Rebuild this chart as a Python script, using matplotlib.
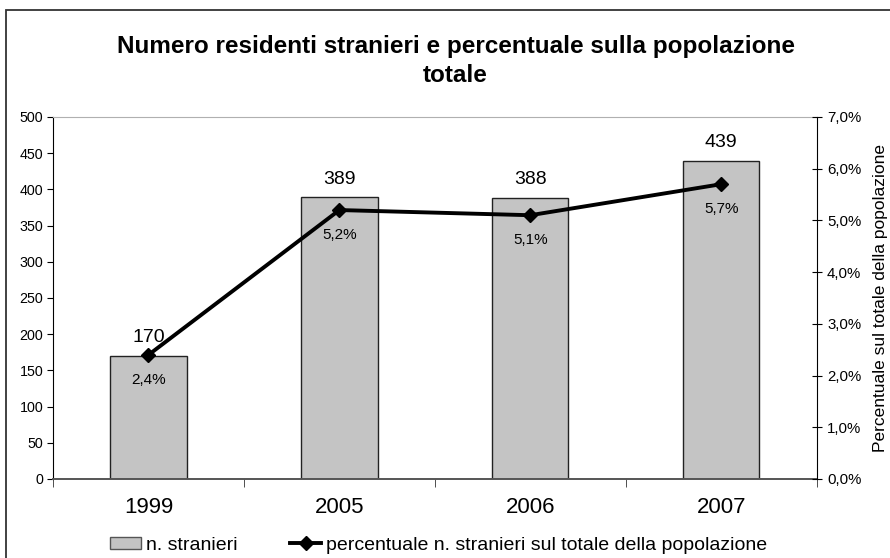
import matplotlib.pyplot as plt
from matplotlib.patches import Rectangle
from matplotlib.lines import Line2D
from matplotlib.patches import Patch

plt.rcParams['font.family'] = ['Liberation Sans', 'DejaVu Sans']

# Data
anni = ['1999', '2005', '2006', '2007']
n_stranieri = [170, 389, 388, 439]
percentuale = [2.4, 5.2, 5.1, 5.7]
perc_labels = ['2,4%', '5,2%', '5,1%', '5,7%']
y_left_ticks = [0, 50, 100, 150, 200, 250, 300, 350, 400, 450, 500]
y_right_ticks = [0, 1, 2, 3, 4, 5, 6, 7]

fig = plt.figure(figsize=(8.9, 5.58), dpi=100)
ax = fig.add_axes([0.0596, 0.1416, 0.858, 0.6488])

# outer border of the chart (right and bottom edges fall outside the image)
fig.patches.append(Rectangle((6 / 890, -0.05), 1.0, 1 - 10 / 558 + 0.05,
                             transform=fig.transFigure, fill=False,
                             edgecolor='#333333', linewidth=1.3))

x = list(range(len(anni)))
ax.bar(x, n_stranieri, width=0.4, color='#c4c4c4', edgecolor='#222222', linewidth=1)
for xi, v in zip(x, n_stranieri):
    ax.annotate(str(v), (xi, v), xytext=(0, 7), textcoords='offset points',
                ha='center', va='bottom', fontsize=14)

ax.set_xlim(-0.5, 3.5)
ax.set_ylim(0, 500)
ax.set_yticks(y_left_ticks)
ax.set_xticks(x)
ax.set_xticklabels(anni, fontsize=16)
ax.set_xticks([-0.5, 0.5, 1.5, 2.5, 3.5], minor=True)
ax.tick_params(axis='x', which='major', length=0, pad=13)
ax.tick_params(axis='x', which='minor', length=6, direction='out', color='#333333')
ax.tick_params(axis='y', labelsize=10.3, length=4, direction='out', pad=3)
ax.spines['top'].set_color('#b0b0b0')
ax.spines['bottom'].set_color('#555555')
ax.spines['bottom'].set_linewidth(1.4)
ax.spines['right'].set_visible(False)

ax2 = ax.twinx()
ax2.plot(x, percentuale, color='black', linewidth=2.8, marker='D', markersize=7)
for xi, p, lab in zip(x, percentuale, perc_labels):
    ax2.annotate(lab, (xi, p), xytext=(0, -13), textcoords='offset points',
                 ha='center', va='top', fontsize=11)
ax2.set_ylim(0, 7)
ax2.set_yticks(y_right_ticks)
ax2.set_yticklabels([f'{t},0%' for t in y_right_ticks])
ax2.tick_params(axis='y', labelsize=10.8, length=7, direction='inout', pad=4)
ax2.set_ylabel('Percentuale sul totale della popolazione', fontsize=12.5, labelpad=8)
for s in ['top', 'bottom', 'left']:
    ax2.spines[s].set_visible(False)

fig.text(0.512, 0.891, 'Numero residenti stranieri e percentuale sulla popolazione\ntotale',
         ha='center', va='center', fontsize=17.5, fontweight='bold', linespacing=1.3)

handles = [Patch(facecolor='#c4c4c4', edgecolor='#555555'),
           Line2D([0], [0], color='black', linewidth=2.8, marker='D', markersize=7)]
fig.legend(handles, ['n. stranieri', 'percentuale n. stranieri sul totale della popolazione'],
           loc='center', bbox_to_anchor=(0.493, 0.023), ncol=2, frameon=False,
           fontsize=14, handlelength=1.6, handleheight=0.6, handletextpad=0.25,
           columnspacing=2.7)

plt.savefig('out.png', dpi=100)
